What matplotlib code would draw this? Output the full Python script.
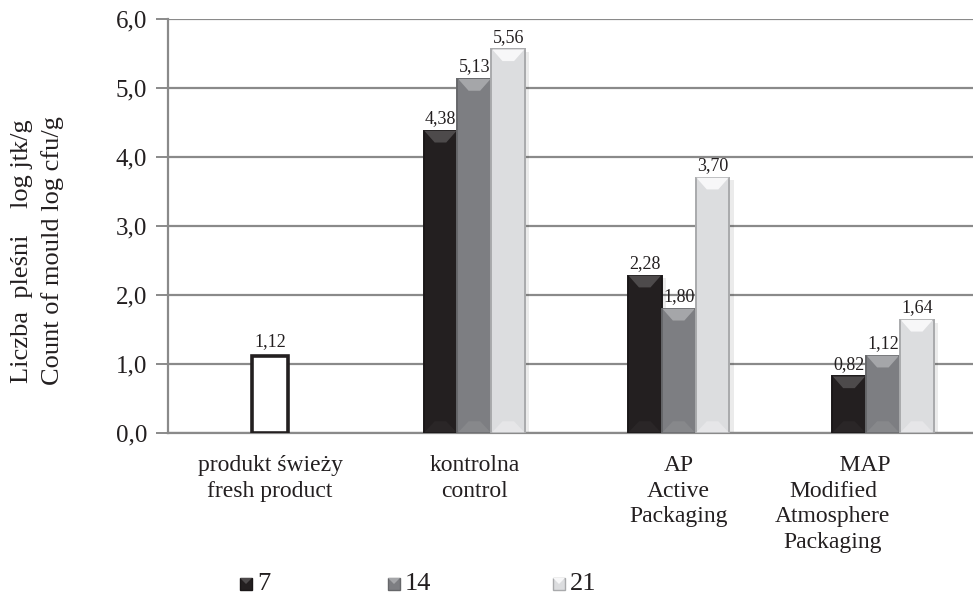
import numpy as np
import matplotlib
matplotlib.use("Agg")
import matplotlib.pyplot as plt
from matplotlib.patches import Polygon, Rectangle
from matplotlib.transforms import ScaledTranslation

plt.rcParams['font.family'] = ['Liberation Serif', 'DejaVu Serif']

# ---- data -------------------------------------------------------------
categories = ["produkt świeży\nfresh product",
              "kontrolna\ncontrol",
              "AP\nActive\nPackaging",
              "           MAP\nModified\nAtmosphere\nPackaging"]
fresh = [1.12, np.nan, np.nan, np.nan]
day7 = [np.nan, 4.38, 2.28, 0.82]
day14 = [np.nan, 5.13, 1.80, 1.12]
day21 = [np.nan, 5.56, 3.70, 1.64]
series_names = ["7", "14", "21"]
yticks = [0.0, 1.0, 2.0, 3.0, 4.0, 5.0, 6.0]
ytick_labels = ["0,0", "1,0", "2,0", "3,0", "4,0", "5,0", "6,0"]

# ---- styles -----------------------------------------------------------
styles = [
    dict(body="#231f20", edge="#1a1718", top="#4d4a4b", bottom="#2a2627"),
    dict(body="#7d7e82", edge="#66676a", top="#a5a6a9", bottom="#87888b"),
    dict(body="#dcdddf", edge="#a9aaac", top="#f7f7f8", bottom="#e6e6e8"),
]

fig = plt.figure(figsize=(9.73, 6.03), dpi=100)
# the plot area runs past the right edge of the figure
ax = fig.add_axes([168 / 973, 170 / 603, 817 / 973, 414 / 603])
ax.set_xlim(0, 4)
ax.set_ylim(0, 6)

x = np.arange(len(categories)) + 0.5
w = 0.166
bevel_h = 0.17
bevel_in = 0.33 * w

ax.set_axisbelow(True)
ax.yaxis.grid(True, color="#8a8a8a", linewidth=1.6)
for s in ["top", "right"]:
    ax.spines[s].set_visible(False)
ax.spines["left"].set_color("#8a8a8a")
ax.spines["left"].set_linewidth(1.6)
ax.spines["bottom"].set_color("#8a8a8a")
ax.spines["bottom"].set_linewidth(1.6)


def fmt(v):
    return f"{v:.2f}".replace(".", ",")


def bevel_bars(xs, vals, st):
    bars = ax.bar(xs, vals, width=w, color=st["body"], edgecolor=st["edge"],
                  linewidth=1.4, zorder=3)
    for b, v in zip(bars, vals):
        if np.isnan(v):
            continue
        x0 = b.get_x()
        x1 = x0 + b.get_width()
        # soft shadow on the right side
        ax.add_patch(Rectangle((x1, 0), 0.02, v - 0.04, color="#000000",
                               alpha=0.08, lw=0, zorder=2))
        top = Polygon([(x0 + 0.004, v), (x1 - 0.004, v),
                       (x1 - bevel_in, v - bevel_h), (x0 + bevel_in, v - bevel_h)],
                      closed=True, facecolor=st["top"], edgecolor="none", zorder=4)
        ax.add_patch(top)
        bh = min(bevel_h, v * 0.3)
        bot = Polygon([(x0 + 0.004, 0.01), (x1 - 0.004, 0.01),
                       (x1 - bevel_in, bh), (x0 + bevel_in, bh)],
                      closed=True, facecolor=st["bottom"], edgecolor="none", zorder=4)
        ax.add_patch(bot)
        ax.text(b.get_x() + b.get_width() / 2, v + 0.05, fmt(v),
                ha="center", va="bottom", fontsize=13, color="#231f20", zorder=6)
    return bars


# fresh product: open bar
fb = ax.bar(x, fresh, width=w * 1.05, color="white", edgecolor="#231f20",
            linewidth=2.6, zorder=3)
for b, v in zip(fb, fresh):
    if not np.isnan(v):
        ax.text(b.get_x() + b.get_width() / 2, v + 0.08, fmt(v),
                ha="center", va="bottom", fontsize=13, color="#231f20", zorder=6)

for off, vals, st in zip([-w, 0.0, w], [day7, day14, day21], styles):
    bevel_bars(x + off, vals, st)

ax.set_yticks(yticks)
ax.set_yticklabels(ytick_labels, fontsize=18, color="#231f20")
ax.tick_params(axis="y", direction="out", length=9, width=1.4, color="#8a8a8a", pad=6)
ax.set_xticks(x)
ax.set_xticklabels(categories, fontsize=17, color="#231f20", linespacing=1.28)
ax.tick_params(axis="x", length=0, pad=16)
last = ax.get_xticklabels()[3]
last.set_transform(last.get_transform() + ScaledTranslation(-0.5, 0, fig.dpi_scale_trans))

fig.text(22 / 973, 1 - 251 / 603, "Liczba  pleśni    log jtk/g", rotation=90,
         ha="center", va="center", fontsize=19, color="#231f20")
fig.text(53 / 973, 1 - 251 / 603, "Count of mould log cfu/g", rotation=90,
         ha="center", va="center", fontsize=19, color="#231f20")

# legend
leg_x = [240, 388, 553]
for lx, name, st in zip(leg_x, series_names, styles):
    fig.add_artist(Rectangle((lx / 973, 1 - 590 / 603), 12 / 973, 12 / 603,
                             transform=fig.transFigure, facecolor=st["body"],
                             edgecolor=st["edge"], linewidth=1))
    fig.add_artist(Polygon([(lx / 973, 1 - 578 / 603), ((lx + 12) / 973, 1 - 578 / 603),
                            ((lx + 6) / 973, 1 - 584 / 603)],
                           closed=True, transform=fig.transFigure,
                           facecolor=st["top"], edgecolor="none"))
    fig.text((lx + 17) / 973, 1 - 584 / 603, name, ha="left", va="center",
             fontsize=19, color="#231f20")

fig.savefig("out.png", dpi=100)
